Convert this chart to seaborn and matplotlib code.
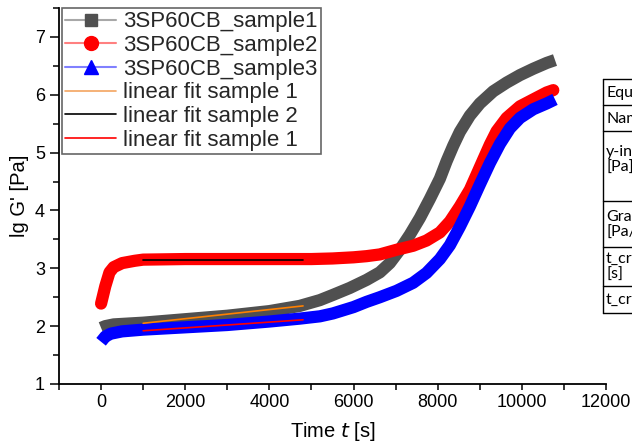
import matplotlib
matplotlib.use("Agg")
import matplotlib.pyplot as plt
from matplotlib.lines import Line2D
from matplotlib.ticker import MultipleLocator
import seaborn as sns
import pandas as pd

# Storage modulus curves (log10 G' over time)
t_s1 = [0, 100, 300, 1000, 2000, 3000, 4000, 4720, 5200, 5510, 5910, 6310, 6624, 6862,
        7100, 7338, 7576, 7814, 8052, 8211, 8370, 8527, 8765, 9003, 9320, 9638, 9955,
        10272, 10590, 10788]
g_s1 = [1.97, 2.00, 2.03, 2.06, 2.12, 2.18, 2.26, 2.35, 2.45, 2.54, 2.66, 2.80, 2.93, 3.09,
        3.32, 3.58, 3.87, 4.20, 4.55, 4.85, 5.12, 5.36, 5.64, 5.85, 6.06, 6.21, 6.34,
        6.45, 6.55, 6.60]

t_s2 = [0, 100, 200, 300, 500, 800, 1000, 2000, 3000, 4000, 5000, 5500, 6000, 6310, 6624,
        7021, 7417, 7734, 8052, 8290, 8527, 8765, 8924, 9082, 9241, 9400, 9638, 9955,
        10272, 10590, 10747]
g_s2 = [2.39, 2.69, 2.93, 3.02, 3.09, 3.13, 3.15, 3.16, 3.16, 3.16, 3.16, 3.17, 3.19, 3.21, 3.24,
        3.32, 3.39, 3.48, 3.62, 3.81, 4.07, 4.36, 4.62, 4.88, 5.14, 5.37, 5.60, 5.80,
        5.92, 6.04, 6.08]

t_s3 = [0, 100, 230, 500, 1000, 2000, 3000, 4000, 4720, 5200, 5510, 6000, 6310, 6624,
        7021, 7417, 7734, 8052, 8290, 8527, 8765, 9003, 9241, 9479, 9717, 9955, 10272,
        10590, 10788]
g_s3 = [1.73, 1.82, 1.87, 1.91, 1.94, 1.98, 2.02, 2.08, 2.13, 2.17, 2.22, 2.33, 2.42, 2.50,
        2.61, 2.75, 2.92, 3.16, 3.40, 3.72, 4.07, 4.45, 4.82, 5.15, 5.42, 5.60, 5.75,
        5.85, 5.92]

# Linear fits over the plateau region
t_fit = [1000, 4800]
g_fit1 = [2.05, 2.35]
g_fit2 = [3.14, 3.14]
g_fit3 = [1.92, 2.11]

labels = ["3SP60CB_sample1", "3SP60CB_sample2", "3SP60CB_sample3",
          "linear fit sample 1", "linear fit sample 2", "linear fit sample 1"]

table_rows = [["Equation"], ["Name"], ["y-intercept", "[Pa]"], ["Gradient", "[Pa/s]"],
              ["t_cross", "[s]"], ["t_cross"]]

sns.set_theme(style="ticks")
plt.rcParams["font.family"] = ["Liberation Sans", "DejaVu Sans"]

fig = plt.figure(figsize=(6.32, 4.46), dpi=100)
ax = fig.add_axes([59 / 632, 1 - 384 / 446, 547 / 632, 376 / 446])

curves = pd.DataFrame({
    "t": t_s1 + t_s2 + t_s3,
    "g": g_s1 + g_s2 + g_s3,
    "s": ["s1"] * len(t_s1) + ["s2"] * len(t_s2) + ["s3"] * len(t_s3),
})
styles = {"s1": ("#505050", "butt"), "s2": ("#ff0000", "round"), "s3": ("#0000ff", "butt")}
for key in ["s1", "s2", "s3"]:
    col, cap = styles[key]
    sub = curves[curves["s"] == key]
    sns.lineplot(data=sub, x="t", y="g", ax=ax, color=col, lw=8.8, sort=False,
                 solid_capstyle=cap, solid_joinstyle="round", legend=False)

for g_fit, col in [(g_fit1, "#ff8000"), (g_fit2, "#000000"), (g_fit3, "#ff0000")]:
    sns.lineplot(x=t_fit, y=g_fit, ax=ax, color=col, lw=1.2, legend=False)

ax.set_xlim(-1000, 12000)
ax.set_ylim(1, 7.5)
ax.xaxis.set_major_locator(MultipleLocator(2000))
ax.xaxis.set_minor_locator(MultipleLocator(1000))
ax.yaxis.set_major_locator(MultipleLocator(1))
ax.yaxis.set_minor_locator(MultipleLocator(0.5))
ax.tick_params(which="both", direction="out", width=1.1, color="black",
               labelsize=13, labelcolor="black")
ax.tick_params(axis="x", which="both", length=4)
ax.tick_params(axis="y", which="major", length=6.5)
ax.tick_params(axis="y", which="minor", length=4.5)
for side in ["top", "right"]:
    ax.spines[side].set_visible(False)
for side in ["left", "bottom"]:
    ax.spines[side].set_color("black")
    ax.spines[side].set_linewidth(1.3)

ax.set_xlabel("Time $\\mathit{t}$ [s]", fontsize=14.5, color="black", labelpad=6)
ax.set_ylabel("lg G' [Pa]", fontsize=14.5, color="black", labelpad=4)

handles = [
    Line2D([], [], color="#a8a8a8", lw=1.5, marker="s", ms=9, mfc="#505050", mec="#505050"),
    Line2D([], [], color="#ff8080", lw=1.5, marker="o", ms=10, mfc="#ff0000", mec="#ff0000"),
    Line2D([], [], color="#8080ff", lw=1.5, marker="^", ms=10, mfc="#0000ff", mec="#0000ff"),
    Line2D([], [], color="#f4a460", lw=1.2),
    Line2D([], [], color="#000000", lw=1.2),
    Line2D([], [], color="#ff0000", lw=1.2),
]
leg = ax.legend(handles, labels, loc="upper left", bbox_to_anchor=(0.005, 1.0),
                borderaxespad=0, frameon=True, fancybox=False, fontsize=16,
                labelspacing=0.12, handlelength=2.3, handletextpad=0.3,
                borderpad=0.15)
leg.get_frame().set_edgecolor("#404040")
leg.get_frame().set_linewidth(1.2)

# Fit-parameter table at the right edge
W, H = 632, 446
row_edges = [79, 105, 131, 201, 247, 286, 313]
row_text_y = [[93], [119], [152, 168], [217, 233], [259, 275], [300]]
x0 = 603
fig.add_artist(Line2D([x0 / W, x0 / W], [1 - row_edges[0] / H, 1 - row_edges[-1] / H],
                      color="black", lw=1.0))
for yy in row_edges:
    fig.add_artist(Line2D([x0 / W, 1.0], [1 - yy / H, 1 - yy / H], color="black", lw=1.0))
for lines, ys in zip(table_rows, row_text_y):
    for txt, yc in zip(lines, ys):
        fig.text(606 / W, 1 - yc / H, txt, ha="left", va="center", fontsize=11.5,
                 family=["Lato", "DejaVu Sans"], color="black")

fig.savefig("out.png", dpi=100)
